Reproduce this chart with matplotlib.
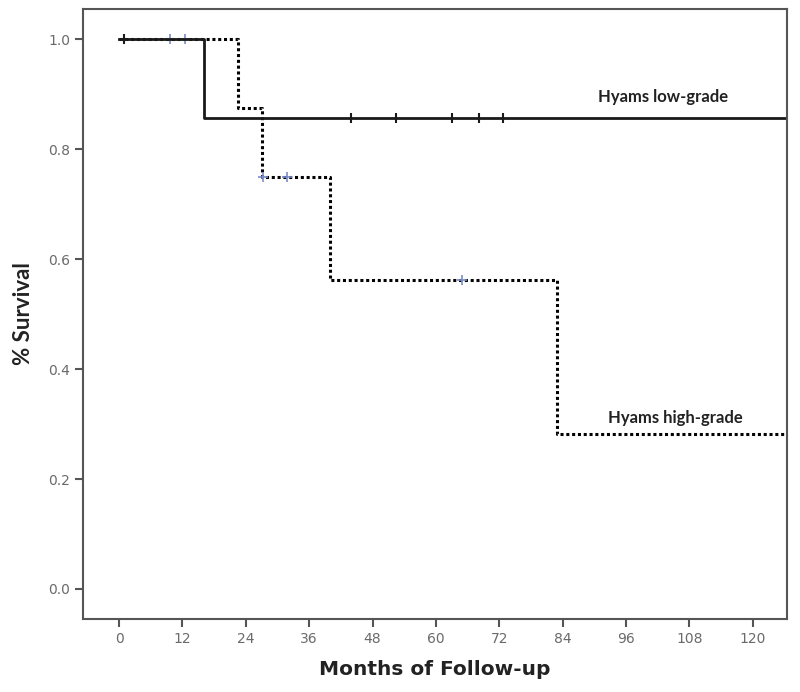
import numpy as np
import matplotlib
matplotlib.use('Agg')
import matplotlib.pyplot as plt

# Kaplan-Meier steps
low_times = [0, 16]
low_surv = [1.0, 0.857]
low_censor = [1, 44, 52.5, 63, 68.2, 72.6]

high_times = [0, 22.5, 27, 40, 83]
high_surv = [1.0, 0.875, 0.75, 0.5625, 0.28125]
high_censor = [9.7, 12.5, 27.2, 31.7, 65]

xticks = [0, 12, 24, 36, 48, 60, 72, 84, 96, 108, 120]
yticks = [0.0, 0.2, 0.4, 0.6, 0.8, 1.0]
x_end = 126.5


def surv_at(times, surv, t):
    idx = np.searchsorted(times, t, side='right') - 1
    return np.array(surv)[idx]


fig = plt.figure(figsize=(8, 6.92), dpi=100)
ax = fig.add_axes([0.104, 0.1055, 0.88, 0.8815])

axis_grey = '#555555'

# high-grade (dotted)
hx = high_times + [x_end]
hy = high_surv + [high_surv[-1]]
ax.step(hx, hy, where='post', color='black', lw=2.2, linestyle=(0, (1.0, 0.9)))
ax.plot(high_censor, surv_at(high_times, high_surv, high_censor), linestyle='none',
        marker='+', markersize=7, mew=1.2, color='#7a8cc8')

# low-grade (solid)
lx = low_times + [x_end]
ly = low_surv + [low_surv[-1]]
ax.step(lx, ly, where='post', color='#1a1a1a', lw=2)
ax.plot(low_censor, surv_at(low_times, low_surv, low_censor), linestyle='none',
        marker='|', markersize=7, mew=1.5, color='#1a1a1a')

ax.text(90.7, 0.895, 'Hyams low-grade', fontsize=12, fontweight='bold',
        family='Lato', color='#222222', va='center', ha='left')
ax.text(92.6, 0.311, 'Hyams high-grade', fontsize=12, fontweight='bold',
        family='Lato', color='#222222', va='center', ha='left')

ax.set_xlim(-6.8, x_end)
ax.set_ylim(-0.0546, 1.055)
ax.set_xticks(xticks)
ax.set_yticks(yticks)
ax.set_yticklabels(['%.1f' % v for v in yticks])

for s in ax.spines.values():
    s.set_color(axis_grey)
    s.set_linewidth(1.5)
ax.tick_params(direction='out', length=6, width=1.5, color=axis_grey,
               labelcolor='#6a6a6a', labelsize=10)

ax.set_xlabel('Months of Follow-up', fontsize=14.5, fontweight='bold',
              family='DejaVu Sans', color='#222222', labelpad=10)
ax.set_ylabel('% Survival', fontsize=16, fontweight='bold', family='Lato',
              color='#222222', labelpad=10)

fig.savefig('out.png', dpi=100)
